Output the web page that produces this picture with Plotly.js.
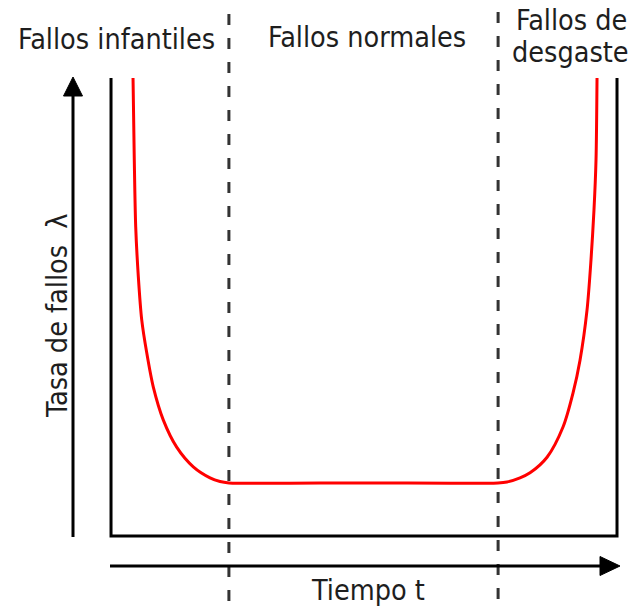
<!DOCTYPE html>
<html>
<head>
<meta charset="utf-8">
<script src="https://cdn.plot.ly/plotly-3.0.1.min.js"></script>
<style>html,body{margin:0;padding:0;background:#fff;}#chart{width:637px;height:606px;}</style>
</head>
<body>
<div id="chart"></div>
<script>
// Bathtub curve: time t (box 0..100) vs failure rate lambda (box 0..100)
const timeT = [4.35, 4.60, 4.88, 5.40, 6.07, 7.06, 8.36, 10.34, 12.98, 16.26, 19.57, 21.54, 23.32,
               50.0, 76.48, 78.26, 80.83, 82.81, 86.17, 89.33, 91.30, 92.69, 94.07, 94.86, 95.45, 95.85, 96.05];
const rateLambda = [100, 82.1, 67.5, 56.6, 47.2, 40.0, 32.5, 25.3, 19.4, 15.1, 12.7, 11.9, 11.6,
                    11.6, 11.6, 11.8, 12.7, 13.8, 17.2, 23.8, 31.2, 38.4, 49.3, 60.3, 71.2, 82.1, 100];
const phaseBounds = [23.3, 76.5];
const phaseLabels = ["Fallos infantiles", "Fallos normales", "Fallos de", "desgaste"];
const xLabel = "Tiempo t";
const yLabel = "Tasa de fallos  λ";

const W = 637, H = 606;
const FONT = "DejaVu Sans Condensed, DejaVu Sans, sans-serif";
const TXT = "#1e1e1e";
const FS = 28.5;
const px = v => v / W;
const py = v => 1 - v / H;

const trace = {
  x: timeT, y: rateLambda, type: "scatter", mode: "lines",
  line: {color: "#ff0000", width: 3, shape: "spline", smoothing: 0.8},
  hoverinfo: "skip"
};

const shapes = [];
// box (left, bottom, right)
shapes.push({type: "path", xref: "x", yref: "y", path: "M0,100 L0,0 L100,0 L100,100",
  line: {color: "#000", width: 3}});
// dashed phase boundaries
phaseBounds.forEach((b, i) => {
  shapes.push({type: "line", xref: "x", yref: "paper", x0: b, x1: b,
    y0: py(i === 0 ? 14 : 12), y1: 0,
    line: {color: "#333", width: 3, dash: "11px,13px"}});
});
// y arrow
shapes.push({type: "line", xref: "paper", yref: "paper", x0: px(73), x1: px(73), y0: py(537), y1: py(92),
  line: {color: "#000", width: 3}});
shapes.push({type: "path", xref: "paper", yref: "paper",
  path: `M${px(63.5)},${py(96)} L${px(73)},${py(77)} L${px(82.5)},${py(96)} Z`,
  fillcolor: "#000", line: {color: "#000", width: 1}});
// x arrow
shapes.push({type: "line", xref: "paper", yref: "paper", x0: px(110), x1: px(603), y0: py(566), y1: py(566),
  line: {color: "#000", width: 3}});
shapes.push({type: "path", xref: "paper", yref: "paper",
  path: `M${px(600)},${py(556.5)} L${px(620)},${py(566)} L${px(600)},${py(575.5)} Z`,
  fillcolor: "#000", line: {color: "#000", width: 1}});

const ann = (text, x, y, angle) => ({text, xref: "paper", yref: "paper", x: px(x), y: py(y),
  xanchor: "center", yanchor: "middle", showarrow: false, textangle: angle || 0,
  font: {family: FONT, size: FS, color: TXT}});

const annotations = [
  ann(phaseLabels[0], 116, 39.5),
  ann(phaseLabels[1], 367, 37.5),
  ann(phaseLabels[2], 571, 20.5),
  ann(phaseLabels[3], 570, 52.5),
  ann(xLabel, 368, 590.5),
  ann(yLabel, 57, 316, -90)
];

const layout = {
  width: W, height: H, margin: {l: 0, r: 0, t: 0, b: 0},
  paper_bgcolor: "#fff", plot_bgcolor: "#fff", showlegend: false,
  xaxis: {range: [-21.94, 103.95], visible: false, fixedrange: true},
  yaxis: {range: [-15.28, 117.03], visible: false, fixedrange: true},
  shapes, annotations
};
Plotly.newPlot("chart", [trace], layout, {staticPlot: true, displayModeBar: false});
</script>
</body>
</html>
